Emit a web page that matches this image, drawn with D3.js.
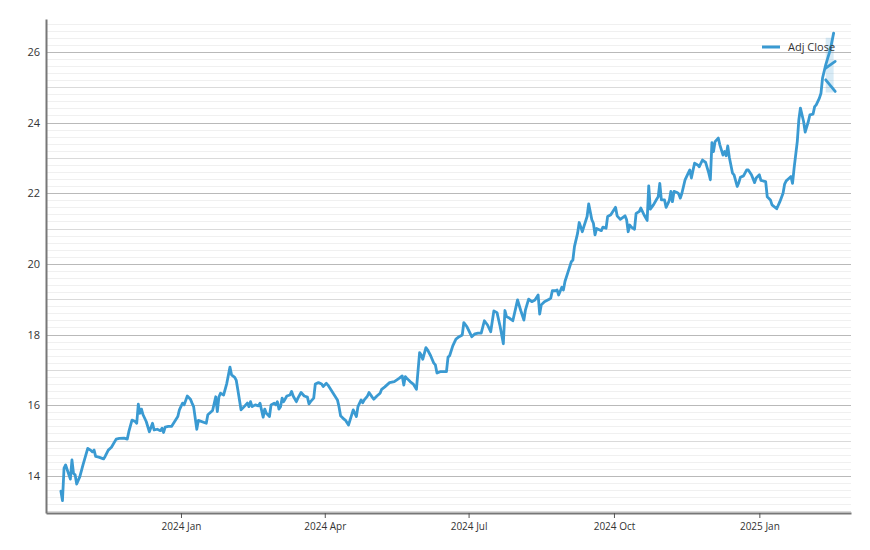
<!DOCTYPE html>
<html>
<head>
<meta charset="utf-8">
<script src="https://cdn.jsdelivr.net/npm/d3@7"></script>
<style>
    html, body { margin: 0; padding: 0; background: #fff; }
    #chart { width: 870px; height: 550px; }
    text { font-family: "Open Sans", "Noto Sans", sans-serif; }
</style>
</head>
<body>
<div id="chart"></div>
<script>
// trading dates and adjusted close
const dates = [
    "2023-10-17","2023-10-18","2023-10-19","2023-10-20","2023-10-23","2023-10-24","2023-10-25","2023-10-26","2023-10-27","2023-10-29",
    "2023-10-31","2023-11-03","2023-11-05","2023-11-06","2023-11-07","2023-11-08","2023-11-10","2023-11-13","2023-11-14","2023-11-16",
    "2023-11-18","2023-11-21","2023-11-23","2023-11-26","2023-11-28","2023-11-29","2023-12-01","2023-12-03","2023-12-04","2023-12-05",
    "2023-12-06","2023-12-07","2023-12-08","2023-12-10","2023-12-12","2023-12-14","2023-12-15","2023-12-17","2023-12-19","2023-12-20",
    "2023-12-21","2023-12-22","2023-12-24","2023-12-26","2023-12-28","2023-12-30","2023-12-31","2024-01-02","2024-01-03","2024-01-05",
    "2024-01-07","2024-01-08","2024-01-09","2024-01-11","2024-01-12","2024-01-17","2024-01-18","2024-01-21","2024-01-23","2024-01-24",
    "2024-01-25","2024-01-26","2024-01-28","2024-01-30","2024-02-01","2024-02-02","2024-02-04","2024-02-05","2024-02-06","2024-02-08",
    "2024-02-10","2024-02-12","2024-02-13","2024-02-14","2024-02-15","2024-02-17","2024-02-19","2024-02-20","2024-02-22","2024-02-23",
    "2024-02-24","2024-02-26","2024-02-27","2024-02-29","2024-03-01","2024-03-02","2024-03-03","2024-03-04","2024-03-05","2024-03-06",
    "2024-03-08","2024-03-10","2024-03-11","2024-03-12","2024-03-14","2024-03-15","2024-03-17","2024-03-19","2024-03-21","2024-03-22",
    "2024-03-23","2024-03-25","2024-03-26","2024-03-28","2024-03-30","2024-03-31","2024-04-02","2024-04-03","2024-04-05","2024-04-07",
    "2024-04-09","2024-04-10","2024-04-11","2024-04-13","2024-04-14","2024-04-16","2024-04-17","2024-04-19","2024-04-20","2024-04-21",
    "2024-04-22","2024-04-24","2024-04-25","2024-04-26","2024-04-28","2024-04-29","2024-05-01","2024-05-02","2024-05-04","2024-05-06",
    "2024-05-07","2024-05-09","2024-05-12","2024-05-15","2024-05-18","2024-05-20","2024-05-21","2024-05-22","2024-05-23","2024-05-25",
    "2024-05-27","2024-05-29","2024-05-31","2024-06-01","2024-06-02","2024-06-04","2024-06-05","2024-06-07","2024-06-09","2024-06-10",
    "2024-06-11","2024-06-13","2024-06-15","2024-06-17","2024-06-18","2024-06-19","2024-06-21","2024-06-23","2024-06-25","2024-06-27",
    "2024-06-28","2024-06-30","2024-07-03","2024-07-05","2024-07-07","2024-07-09","2024-07-11","2024-07-13","2024-07-15","2024-07-17",
    "2024-07-19","2024-07-21","2024-07-23","2024-07-24","2024-07-25","2024-07-27","2024-07-29","2024-08-01","2024-08-03","2024-08-05",
    "2024-08-06","2024-08-08","2024-08-10","2024-08-12","2024-08-14","2024-08-15","2024-08-16","2024-08-18","2024-08-21","2024-08-22",
    "2024-08-23","2024-08-25","2024-08-26","2024-08-27","2024-08-29","2024-08-30","2024-08-31","2024-09-02","2024-09-04","2024-09-05",
    "2024-09-06","2024-09-08","2024-09-09","2024-09-11","2024-09-12","2024-09-14","2024-09-15","2024-09-17","2024-09-18","2024-09-19",
    "2024-09-20","2024-09-21","2024-09-23","2024-09-24","2024-09-26","2024-09-27","2024-09-29","2024-10-02","2024-10-03","2024-10-05",
    "2024-10-08","2024-10-09","2024-10-10","2024-10-11","2024-10-12","2024-10-14","2024-10-15","2024-10-17","2024-10-18","2024-10-20",
    "2024-10-22","2024-10-23","2024-10-24","2024-10-26","2024-10-28","2024-10-29","2024-10-30","2024-10-31","2024-11-02","2024-11-03",
    "2024-11-05","2024-11-06","2024-11-07","2024-11-08","2024-11-10","2024-11-11","2024-11-12","2024-11-13","2024-11-15","2024-11-17",
    "2024-11-18","2024-11-19","2024-11-21","2024-11-23","2024-11-24","2024-11-26","2024-11-28","2024-11-30","2024-12-01","2024-12-02",
    "2024-12-03","2024-12-04","2024-12-06","2024-12-07","2024-12-09","2024-12-10","2024-12-11","2024-12-12","2024-12-13","2024-12-15",
    "2024-12-16","2024-12-18","2024-12-19","2024-12-20","2024-12-22","2024-12-24","2024-12-25","2024-12-27","2024-12-29","2024-12-30",
    "2025-01-01","2025-01-02","2025-01-05","2025-01-06","2025-01-08","2025-01-09","2025-01-12","2025-01-14","2025-01-16","2025-01-17",
    "2025-01-18","2025-01-20","2025-01-21","2025-01-22","2025-01-23","2025-01-25","2025-01-26","2025-01-27","2025-01-29","2025-01-30",
    "2025-02-01","2025-02-02","2025-02-04","2025-02-05","2025-02-06","2025-02-08","2025-02-09","2025-02-10","2025-02-12","2025-02-15",
    "2025-02-17"
];

const adjClose = [
    13.57,13.30,14.22,14.31,13.91,14.45,14.07,14.03,13.77,13.98,
    14.31,14.78,14.72,14.68,14.73,14.55,14.53,14.48,14.55,14.73,
    14.81,15.04,15.06,15.07,15.04,15.25,15.58,15.54,15.49,16.03,
    15.77,15.89,15.73,15.54,15.25,15.49,15.30,15.32,15.28,15.35,
    15.23,15.38,15.40,15.40,15.54,15.68,15.87,16.06,16.01,16.26,
    16.17,16.06,15.96,15.32,15.57,15.49,15.73,15.85,16.24,15.82,
    16.23,16.34,16.29,16.62,17.08,16.86,16.79,16.70,16.43,15.87,
    15.96,16.06,15.96,16.10,15.96,16.01,15.98,16.06,15.66,15.89,
    15.77,15.68,16.01,16.06,16.01,16.10,15.89,15.96,16.20,16.10,
    16.26,16.29,16.39,16.26,16.10,16.20,16.36,16.26,16.23,16.04,
    16.10,16.20,16.60,16.64,16.60,16.53,16.62,16.57,16.43,16.29,
    16.15,15.96,15.70,15.61,15.58,15.44,15.58,15.87,15.77,15.68,
    15.96,16.15,16.07,16.15,16.26,16.36,16.23,16.17,16.26,16.34,
    16.45,16.52,16.64,16.67,16.76,16.83,16.57,16.81,16.76,16.67,
    16.60,16.45,17.49,17.42,17.30,17.63,17.57,17.40,17.19,17.14,
    16.91,16.95,16.95,16.95,17.36,17.40,17.68,17.87,17.94,17.99,
    18.34,18.22,17.94,18.02,18.04,18.04,18.39,18.27,18.08,18.67,
    18.62,18.22,17.74,18.68,18.51,18.46,18.39,18.98,18.68,18.41,
    18.70,19.00,18.93,18.98,19.12,18.58,18.84,18.93,19.00,19.03,
    19.24,19.24,19.26,19.12,19.34,19.26,19.50,19.78,20.06,20.11,
    20.49,20.87,21.17,20.91,21.06,21.34,21.70,21.25,21.15,20.82,
    21.00,20.98,20.94,21.04,21.01,21.34,21.39,21.60,21.36,21.26,
    21.36,21.25,20.91,21.10,21.04,20.98,21.43,21.48,21.58,21.39,
    21.23,22.21,21.55,21.67,21.83,21.90,22.28,21.81,21.81,21.60,
    21.79,22.05,21.76,22.05,22.02,21.98,21.86,22.00,22.38,22.57,
    22.66,22.43,22.85,22.80,22.75,22.94,22.87,22.57,22.38,23.43,
    23.18,23.46,23.56,23.37,23.08,23.18,23.06,23.34,23.02,22.57,
    22.52,22.19,22.30,22.45,22.49,22.66,22.66,22.52,22.30,22.43,
    22.52,22.36,22.33,21.90,21.81,21.67,21.56,21.76,22.00,22.26,
    22.35,22.43,22.47,22.28,22.71,23.46,24.08,24.41,24.03,23.73,
    24.03,24.22,24.24,24.45,24.50,24.69,24.83,25.26,25.63,26.08,
    26.53
];

// the two short extra strokes and the shaded band at the right end
const tailDates = ["2025-02-12", "2025-02-18"];
const tailUpper = [25.54, 25.73];
const tailLower = [25.21, 24.88];
const bandDates = ["2025-02-12", "2025-02-17"];
const bandLow = [24.85, 24.85];
const bandHigh = [26.40, 26.40];

const xTicks = ["2024-01-01", "2024-04-01", "2024-07-01", "2024-10-01", "2025-01-01"];
const yTicks = [14, 16, 18, 20, 22, 24, 26];
const xDomain = ["2023-10-07T14:00", "2025-02-28T00:00"];
const yDomain = [12.95, 26.93];
const seriesName = "Adj Close";

const parse = d3.utcParse("%Y-%m-%d");
const parseT = d3.utcParse("%Y-%m-%dT%H:%M");

const width = 870;
const height = 550;
const marginTop = 19;
const marginRight = 19;
const marginBottom = 37;
const marginLeft = 46;
const color = "#3a9ad2";

const data = dates.map((d, i) => ({ date: parse(d), value: adjClose[i] }));

const xScale = d3.scaleUtc(xDomain.map(parseT), [marginLeft, width - marginRight]);
const yScale = d3.scaleLinear(yDomain, [height - marginBottom, marginTop]);

const svg = d3.select("#chart").append("svg")
    .attr("width", width)
    .attr("height", height)
    .attr("viewBox", [0, 0, width, height]);

// horizontal grid: fine lines every 0.2, a bit stronger every 1, strongest every 2
const minor = d3.range(Math.ceil(yDomain[0] * 5), Math.floor(yDomain[1] * 5) + 1).map(k => k / 5);
svg.append("g")
    .selectAll("line")
    .data(minor)
    .join("line")
    .attr("x1", marginLeft)
    .attr("x2", width - marginRight)
    .attr("y1", d => Math.round(yScale(d)) + 0.5)
    .attr("y2", d => Math.round(yScale(d)) + 0.5)
    .attr("stroke", d => {
        const r = Math.round(d * 5);
        if (r % 10 === 0) return "#b9b9b9";
        if (r % 5 === 0) return "#dadada";
        return "#f0f0f0";
    })
    .attr("stroke-width", d => Math.round(d * 5) % 10 === 0 ? 1.2 : 1);

// band
const area = d3.area()
    .x((d, i) => xScale(parse(bandDates[i])))
    .y0((d, i) => yScale(bandLow[i]))
    .y1((d, i) => yScale(bandHigh[i]));

svg.append("path")
    .attr("fill", color)
    .attr("fill-opacity", 0.2)
    .attr("d", area(bandDates));

// axes
svg.append("g")
    .attr("transform", `translate(0,${height - marginBottom})`)
    .call(d3.axisBottom(xScale)
        .tickValues(xTicks.map(parse))
        .tickFormat(d3.utcFormat("%Y %b"))
        .tickSize(5)
        .tickSizeOuter(0))
    .call(g => g.select(".domain").attr("stroke", "#777").attr("stroke-width", 2))
    .call(g => g.selectAll(".tick line").attr("stroke", "#555"))
    .call(g => g.selectAll(".tick text")
        .attr("fill", "#333")
        .attr("dy", "0.9em")
        .style("font-size", "10px"));

svg.append("g")
    .attr("transform", `translate(${marginLeft},0)`)
    .call(d3.axisLeft(yScale).tickValues(yTicks).tickSize(0).tickPadding(6))
    .call(g => g.select(".domain").attr("stroke", "#777").attr("stroke-width", 2))
    .call(g => g.selectAll(".tick text")
        .attr("fill", "#333")
        .style("font-size", "11px"));

// series
const line = d3.line()
    .x(d => xScale(d.date))
    .y(d => yScale(d.value));

svg.append("path")
    .attr("fill", "none")
    .attr("stroke", color)
    .attr("stroke-width", 2.8)
    .attr("stroke-linejoin", "round")
    .attr("stroke-linecap", "round")
    .attr("d", line(data));

[tailUpper, tailLower].forEach(vals => {
    svg.append("path")
        .attr("fill", "none")
        .attr("stroke", color)
        .attr("stroke-width", 2.8)
        .attr("stroke-linecap", "round")
        .attr("d", line(tailDates.map((d, i) => ({ date: parse(d), value: vals[i] }))));
});

// legend
const legend = svg.append("g")
    .attr("transform", `translate(${width - 108},47)`);

legend.append("line")
    .attr("x1", 0)
    .attr("x2", 18)
    .attr("stroke", color)
    .attr("stroke-width", 3);

legend.append("text")
    .attr("x", 26)
    .attr("dy", "0.35em")
    .attr("fill", "#333")
    .style("font-size", "11px")
    .text(seriesName);
</script>
</body>
</html>
